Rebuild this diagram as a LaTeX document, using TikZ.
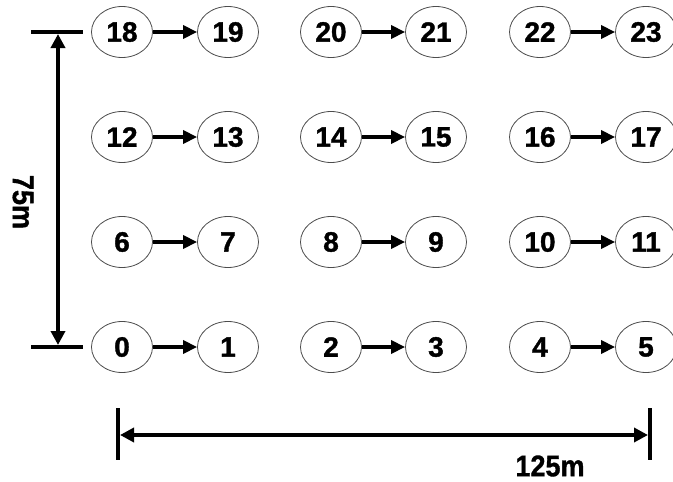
\documentclass[tikz,border=0pt]{standalone}
\usepackage{fontspec}
\setmainfont{Liberation Sans}[BoldFont={Liberation Sans Bold}]
\newfontfamily\heavysans{Liberation Sans Bold}[FakeBold=1.2]
\usetikzlibrary{shapes.geometric,arrows.meta}
\begin{document}
\begin{tikzpicture}[x=1pt,y=-1pt,
  nd/.style={ellipse,draw=black!70,line width=0.8pt,minimum width=61pt,minimum height=51pt,inner sep=0pt,font=\heavysans\fontsize{28}{28}\selectfont},
  link/.style={line width=3.6pt,-{Triangle[length=14pt,width=13pt]}},
  dimline/.style={line width=3.6pt},
  dimarrow/.style={line width=3.6pt,{Triangle[length=14pt,width=14pt]}-{Triangle[length=14pt,width=14pt]}},
  lbl/.style={font=\heavysans\fontsize{27}{27}\selectfont}]
\useasboundingbox (0,0) rectangle (673,482);
\foreach \r/\y in {0/347,1/242,2/137,3/32}{
  \foreach \c/\x in {0/122,1/228,2/331,3/436,4/540,5/646}{
    \pgfmathtruncatemacro{\n}{6*\r+\c}
    \node[nd] (n\n) at (\x,\y) {\n};
  }
}
\foreach \r in {0,1,2,3}{
  \foreach \c in {0,2,4}{
    \pgfmathtruncatemacro{\a}{6*\r+\c}
    \pgfmathtruncatemacro{\b}{6*\r+\c+1}
    \draw[link] (n\a) -- (n\b);
  }
}
% left dimension
\coordinate (lt1) at (31,32);
\coordinate (lt2) at (83,32);
\coordinate (lb1) at (31,347);
\coordinate (lb2) at (83,347);
\coordinate (la) at (58,34);
\coordinate (lb) at (58,345);
\draw[dimline] (lt1) -- (lt2);
\draw[dimline] (lb1) -- (lb2);
\draw[dimarrow] (la) -- (lb);
\node[lbl,rotate=-90,yscale=1.1] (l75) at (23,202) {75m};
% bottom dimension
\coordinate (bl1) at (118,408);
\coordinate (bl2) at (118,460);
\coordinate (br1) at (650,408);
\coordinate (br2) at (650,460);
\coordinate (ba) at (120,435);
\coordinate (bb) at (648,435);
\draw[dimline] (bl1) -- (bl2);
\draw[dimline] (br1) -- (br2);
\draw[dimarrow] (ba) -- (bb);
\node[lbl,yscale=1.1] (l125) at (550,466) {125m};
\end{tikzpicture}
\end{document}
